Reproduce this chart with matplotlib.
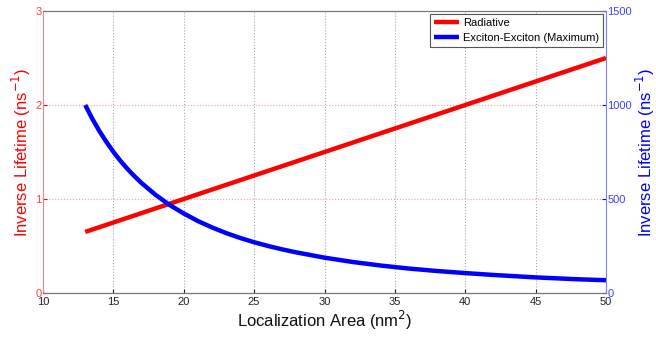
import matplotlib
matplotlib.use('Agg')
import matplotlib.pyplot as plt

plt.rcParams['font.family'] = ['Liberation Sans', 'DejaVu Sans']

# 數據
rad_area = [13, 50]
rad_rate = [0.65, 2.5]

xx_area = [13, 13.5, 14, 14.5, 15, 15.5, 16, 16.5, 17, 18, 19, 20, 21, 22, 23, 24, 25, 26, 27, 28,
           30, 32, 34, 36, 38, 40, 42, 45, 48, 50]
xx_rate = [1000, 927, 862, 804, 751, 703, 660, 621, 585, 522, 468, 423, 383, 349, 319, 293, 270, 250,
           232, 216, 188, 165, 146, 130, 117, 106, 96, 83, 73, 68]

x_ticks = [10, 15, 20, 25, 30, 35, 40, 45, 50]
left_ticks = [0, 1, 2, 3]
right_ticks = [0, 500, 1000, 1500]

red = '#ff0000'
blue = '#0000ff'

fig = plt.figure(figsize=(6.56, 3.39), dpi=100)
ax = fig.add_axes([43 / 656, 1 - 293 / 339, (606 - 43) / 656, (293 - 11) / 339])
ax2 = ax.twinx()

l1, = ax.plot(rad_area, rad_rate, color=red, lw=3.2, solid_capstyle='butt', label='Radiative')
l2, = ax2.plot(xx_area, xx_rate, color=blue, lw=3.2, solid_capstyle='butt',
               solid_joinstyle='round', label='Exciton-Exciton (Maximum)')

ax.set_xlim(10, 50)
ax.set_ylim(0, 3)
ax2.set_ylim(0, 1500)
ax.set_xticks(x_ticks)
ax.set_yticks(left_ticks)
ax2.set_yticks(right_ticks)

# 格線
ax.xaxis.grid(True, linestyle=':', color='#aaaaaa', lw=0.8)
ax.yaxis.grid(True, linestyle=':', color='#ff9999', lw=0.8)

ax.tick_params(axis='x', labelsize=8, direction='in', length=3, colors='#222222', pad=3)
ax.tick_params(axis='y', labelsize=8, direction='in', length=3, colors=red, pad=1)
ax2.tick_params(axis='y', labelsize=8, direction='in', length=3, colors=blue, pad=1)
for t in ax.get_yticklabels():
    t.set_color('#ff4040')
for t in ax2.get_yticklabels():
    t.set_color('#4040ff')

for s in ['top', 'bottom']:
    ax.spines[s].set_color('#777777')
    ax2.spines[s].set_color('#777777')
ax.spines['left'].set_color('#ff8080')
ax2.spines['left'].set_visible(False)
ax2.spines['right'].set_color('#8080ff')
ax.spines['right'].set_visible(False)

ax.set_xlabel('Localization Area (nm$^2$)', fontsize=12, color='#111111', labelpad=1)
ax.set_ylabel('Inverse Lifetime (ns$^{-1}$)', fontsize=12, color=red, labelpad=2)
ax2.set_ylabel('Inverse Lifetime (ns$^{-1}$)', fontsize=12, color=blue, labelpad=1)

leg = ax2.legend(handles=[l1, l2], loc='upper right', fontsize=8, fancybox=False,
                 framealpha=1, edgecolor='#555555', borderaxespad=0.3,
                 handlelength=2.3, handletextpad=0.3, labelspacing=0.4, borderpad=0.35)
leg.get_frame().set_linewidth(0.8)

fig.savefig('out.png', dpi=100)
